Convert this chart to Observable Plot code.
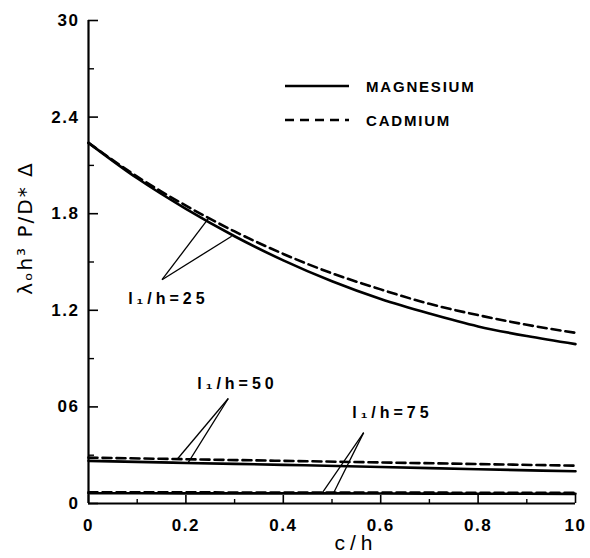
<!DOCTYPE html>
<html><head><meta charset="utf-8">
<script src="https://cdn.jsdelivr.net/npm/d3@7"></script>
<script src="https://cdn.jsdelivr.net/npm/@observablehq/plot@0.6"></script>
<style>
body{margin:0;background:#fff;}
#wrap{position:relative;width:590px;height:558px;}
.leg{position:absolute;left:284px;font-family:"Liberation Sans",Arial,sans-serif;font-weight:bold;font-size:15px;letter-spacing:1.8px;color:#000;display:flex;align-items:center;height:20px;}
.leg svg{margin-right:16px;}
.ytitle{position:absolute;left:25px;top:228px;transform:translate(-50%,-50%) rotate(-90deg);white-space:nowrap;font-family:"DejaVu Sans",sans-serif;font-size:20px;letter-spacing:2px;color:#000;}
</style></head><body>
<div id="wrap"></div>
<script>
// c/h values
const cOverH = [0, 0.1, 0.2, 0.3, 0.4, 0.5, 0.6, 0.7, 0.8, 0.9, 1.0];
// l1/h = 25
const mg25 = [2.24, 2.02, 1.83, 1.66, 1.51, 1.38, 1.27, 1.18, 1.10, 1.04, 0.99];
const cd25 = [2.24, 2.03, 1.85, 1.69, 1.55, 1.43, 1.33, 1.24, 1.17, 1.11, 1.06];
// l1/h = 50 and 75
const cOverHFlat = [0, 0.2, 0.4, 0.6, 0.8, 1.0];
const mg50 = [0.265, 0.252, 0.240, 0.227, 0.213, 0.200];
const cd50 = [0.285, 0.275, 0.265, 0.255, 0.245, 0.235];
const mg75 = [0.064, 0.063, 0.063, 0.062, 0.061, 0.060];
const cd75 = [0.069, 0.069, 0.068, 0.068, 0.067, 0.067];

const seriesNames = ["MAGNESIUM", "CADMIUM"];
const yTicksMajor = [0, 0.6, 1.2, 1.8, 2.4, 3.0];
const yTickLabels = ["0", "06", "1.2", "1.8", "2.4", "30"];
const yTicksMinor = [0.3, 0.9, 1.5, 2.1, 2.7];
const xTicksMajor = [0, 0.2, 0.4, 0.6, 0.8, 1.0];
const xTickLabels = ["0", "0.2", "0.4", "0.6", "0.8", "10"];
const xTicksMinor = [0.1, 0.3, 0.5, 0.7, 0.9];
const xTitle = "c/h";
const yTitle = "λₒh³ P/D* Δ";

// annotations (data coordinates)
const annLabels = ["l₁/h=25", "l₁/h=50", "l₁/h=75"];
const annLabelX = [0.164, 0.306, 0.624];
const annLabelY = [1.27, 0.745, 0.56];
const leaderFromX = [0.151, 0.151, 0.287, 0.287, 0.565, 0.565];
const leaderFromY = [1.39, 1.39, 0.652, 0.652, 0.44, 0.44];
const leaderToX = [0.246, 0.294, 0.183, 0.205, 0.48, 0.503];
const leaderToY = [1.77, 1.66, 0.278, 0.255, 0.066, 0.064];

function rows(xs, ys, group) { return xs.map((x, i) => ({x, y: ys[i], group})); }
const solidRows = [...rows(cOverH, mg25, "25"), ...rows(cOverHFlat, mg50, "50"), ...rows(cOverHFlat, mg75, "75")];
const dashedRows = [...rows(cOverH, cd25, "25"), ...rows(cOverHFlat, cd50, "50"), ...rows(cOverHFlat, cd75, "75")];

const FONT = "'Liberation Sans', Arial, sans-serif";
const W = 590, H = 558, ML = 88, MR = 15, MT = 20, MB = 55;
const plotW = W - ML - MR, plotH = H - MT - MB;

const plot = Plot.plot({
  width: W, height: H,
  marginLeft: ML, marginRight: MR, marginTop: MT, marginBottom: MB,
  style: {fontFamily: FONT, fontWeight: "bold", background: "#fff", color: "#000"},
  x: {domain: [0, 1], label: null},
  y: {domain: [0, 3], label: null},
  marks: [
    // inward tick marks
    Plot.ruleY(yTicksMajor, {insetRight: plotW - 10, stroke: "#000", strokeWidth: 1.6}),
    Plot.ruleY(yTicksMinor, {insetRight: plotW - 6, stroke: "#000", strokeWidth: 1.4}),
    Plot.ruleX(xTicksMajor, {insetTop: plotH - 8, stroke: "#000", strokeWidth: 1.6}),
    Plot.ruleX(xTicksMinor, {insetTop: plotH - 4, stroke: "#000", strokeWidth: 1.4}),
    // axis lines
    Plot.ruleX([0], {stroke: "#000", strokeWidth: 2.2}),
    Plot.ruleY([0], {stroke: "#000", strokeWidth: 2.2}),
    Plot.axisY(yTicksMajor, {tickSize: 0, tickPadding: 9, fontSize: 17, label: null,
      tickFormat: d => yTickLabels[yTicksMajor.indexOf(d)]}),
    Plot.axisX(xTicksMajor, {tickSize: 0, tickPadding: 15, fontSize: 17, label: null,
      tickFormat: d => xTickLabels[xTicksMajor.indexOf(d)]}),
    Plot.line(solidRows, {x: "x", y: "y", z: "group", curve: "monotone-x", stroke: "#000", strokeWidth: 2.6}),
    Plot.line(dashedRows, {x: "x", y: "y", z: "group", curve: "monotone-x", stroke: "#000", strokeWidth: 2.6, strokeDasharray: "9,5"}),
    Plot.link(leaderFromX, {x1: leaderFromX, y1: leaderFromY, x2: leaderToX, y2: leaderToY, stroke: "#000", strokeWidth: 1.3}),
    Plot.text(annLabels, {x: annLabelX, y: annLabelY, text: d => d, fontSize: 16, fontWeight: "bold", fill: "#000",
      fontFamily: FONT, textAnchor: "middle"}),
    Plot.text([xTitle], {frameAnchor: "bottom", dx: 24, dy: 46, text: d => d, fontSize: 21, fontWeight: "normal", fill: "#000"})
  ]
});
// letter spacing tweaks for the hand-lettered look
d3.select(plot).selectAll("text").each(function() {
  const t = this.textContent;
  if (annLabels.includes(t)) d3.select(this).style("letter-spacing", "4px");
  else if (t === xTitle) d3.select(this).style("letter-spacing", "5px");
  else d3.select(this).style("letter-spacing", "1.5px");
});
const wrap = document.getElementById("wrap");
wrap.appendChild(plot);

const yt = document.createElement("div");
yt.className = "ytitle";
yt.textContent = yTitle;
wrap.appendChild(yt);

// legend overlaid in the upper right of the plot area
const legTops = [76, 110];
seriesNames.forEach((name, i) => {
  const div = document.createElement("div");
  div.className = "leg";
  div.style.top = legTops[i] + "px";
  const dash = i === 0 ? "" : ' stroke-dasharray="9,6"';
  div.innerHTML = `<svg width="66" height="20"><line x1="1" y1="10" x2="65" y2="10" stroke="#000" stroke-width="2.6"${dash}/></svg><span>${name}</span>`;
  wrap.appendChild(div);
});
</script>
</body></html>
